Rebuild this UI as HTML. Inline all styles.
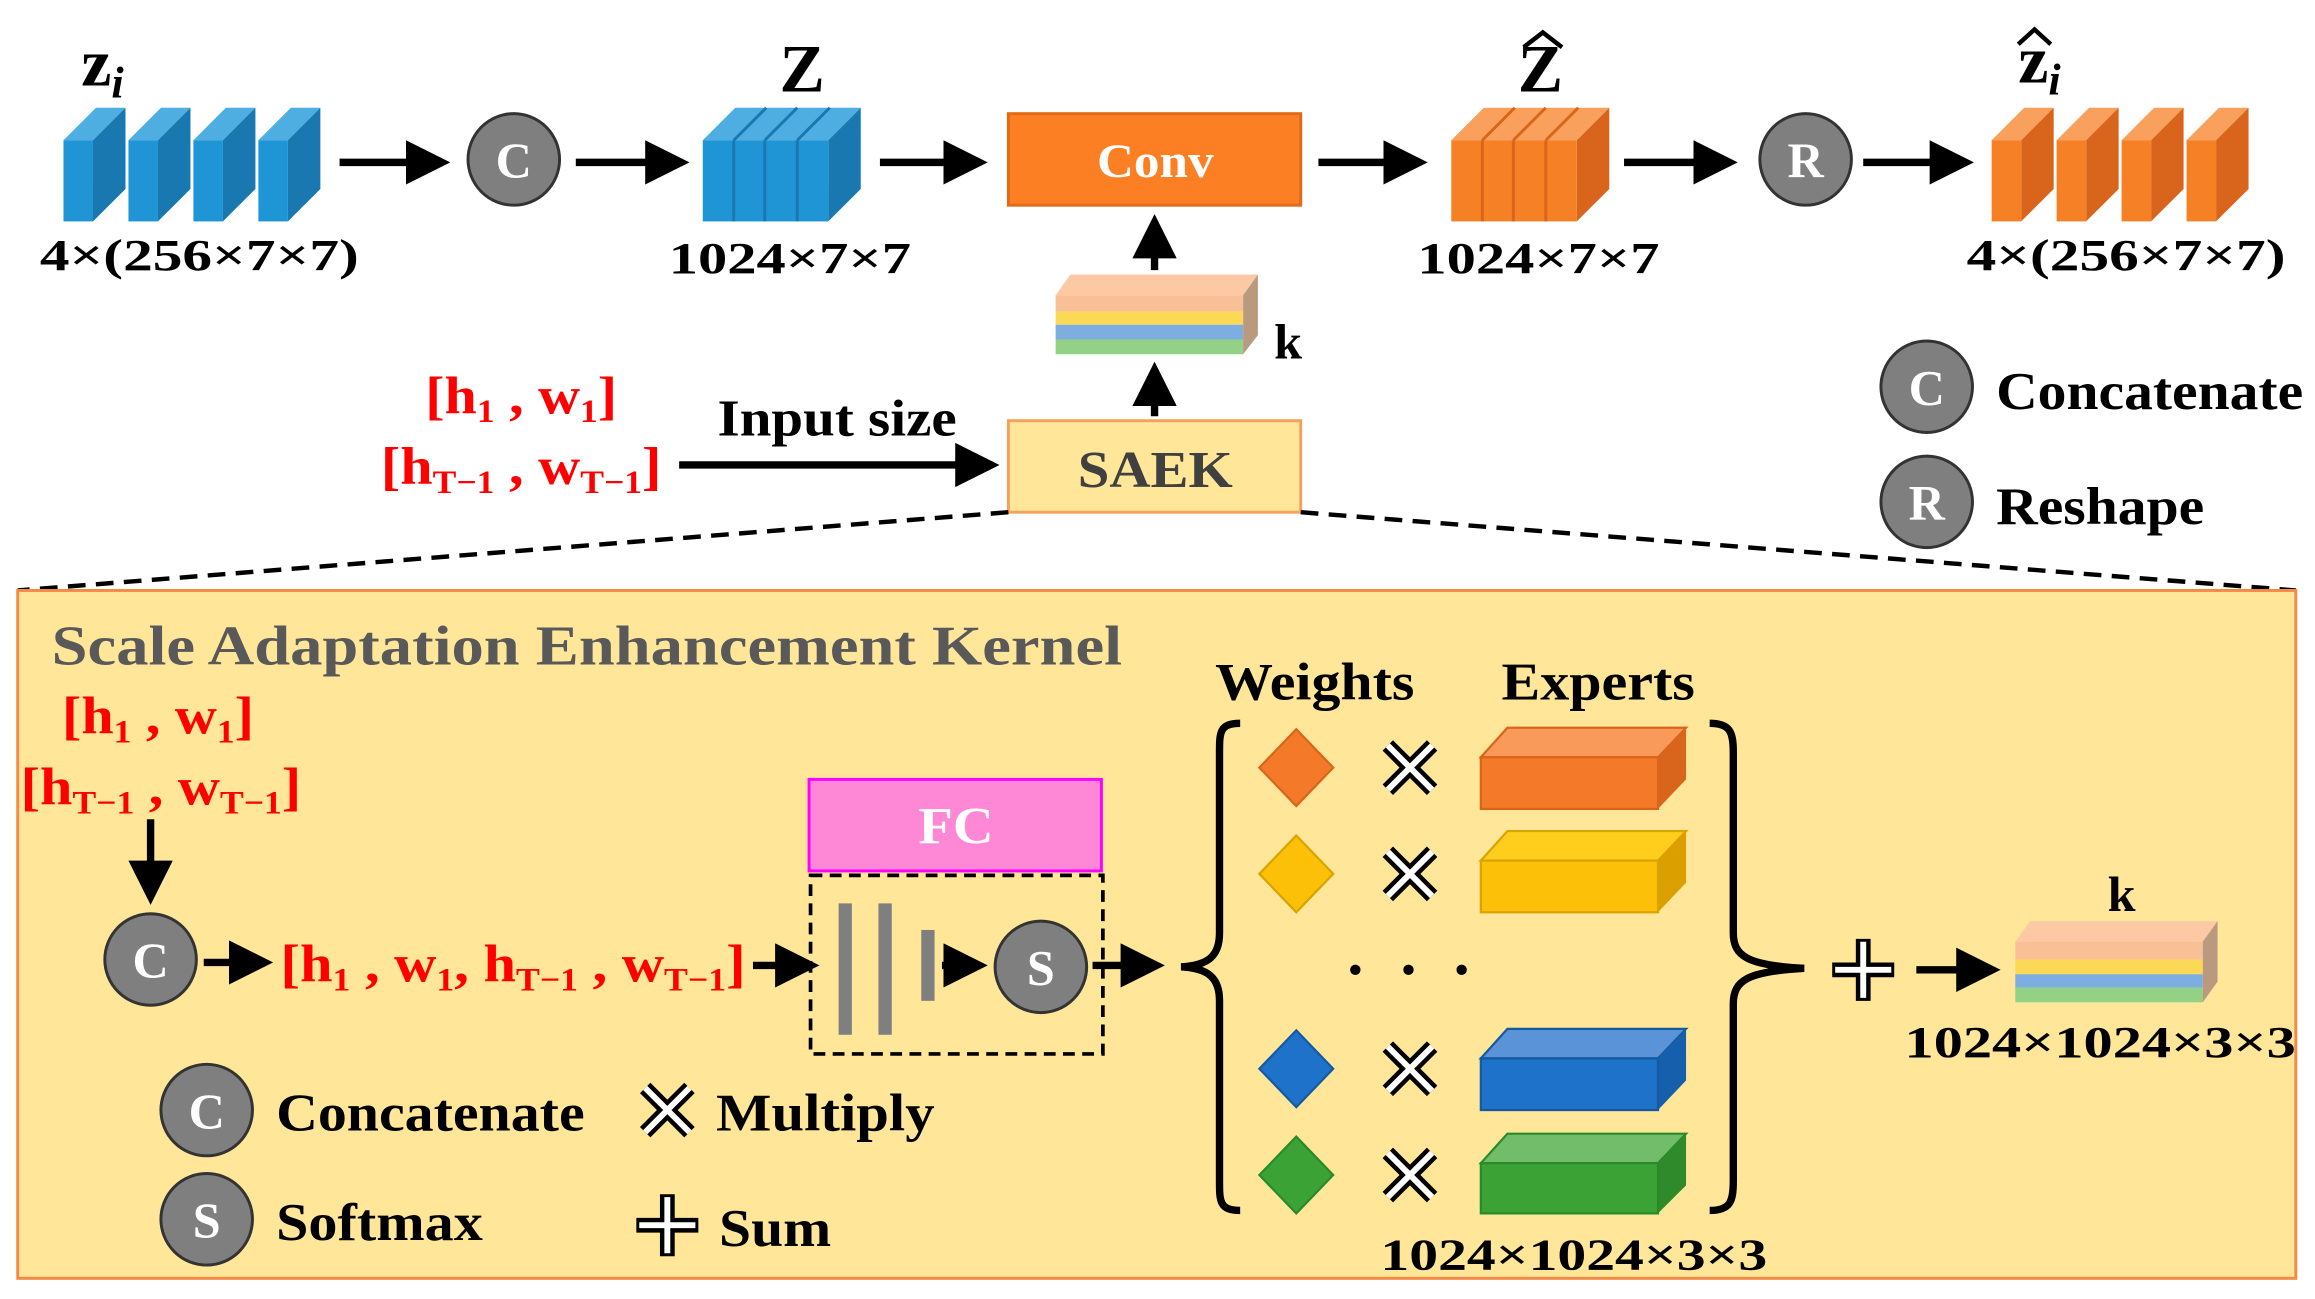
<!DOCTYPE html>
<html><head><meta charset="utf-8"><style>
html,body{margin:0;padding:0;background:#fff;width:2315px;height:1299px;overflow:hidden}
svg{display:block}
text{font-family:"Liberation Serif",serif;font-weight:bold}
</style></head><body>
<svg width="2315" height="1299" viewBox="0 0 1568 880" preserveAspectRatio="none" xmlns="http://www.w3.org/2000/svg">
<defs>
<marker id="ah" markerWidth="6" markerHeight="6" refX="5" refY="3" orient="auto" markerUnits="strokeWidth"><path d="M0,0 L6,3 L0,6 z" fill="#000"/></marker>
<g id="slabB"><polygon points="0,95 22,73 42,73 20,95" fill="#4eaee2"/><polygon points="20,95 42,73 42,128 20,150" fill="#1a78b0"/><rect x="0" y="95" width="20" height="55" fill="#1f95d5"/></g>
<g id="slabO"><polygon points="0,95 22,73 42,73 20,95" fill="#f9a15c"/><polygon points="20,95 42,73 42,128 20,150" fill="#d9651c"/><rect x="0" y="95" width="20" height="55" fill="#f58025"/></g>
<g id="xm"><path d="M-15,-15 L15,15 M15,-15 L-15,15" stroke="#000" stroke-width="10"/><path d="M-15,-15 L15,15 M15,-15 L-15,15" stroke="#fff" stroke-width="4"/></g>
<g id="pl"><path d="M-21,0 L21,0 M0,-21 L0,21" stroke="#000" stroke-width="10"/><path d="M-19,0 L19,0 M0,-19 L0,19" stroke="#fff" stroke-width="4"/></g>
</defs>
<g stroke="#000" stroke-width="5" marker-end="url(#ah)" fill="none">
<line x1="230" y1="110" x2="300" y2="110"/><line x1="390" y1="110" x2="462" y2="110"/><line x1="596" y1="110" x2="664" y2="110"/>
<line x1="893" y1="110" x2="962" y2="110"/><line x1="1100" y1="110" x2="1172" y2="110"/><line x1="1262" y1="110" x2="1332" y2="110"/>
<line x1="782" y1="183" x2="782" y2="150"/><line x1="782" y1="282" x2="782" y2="250"/>
<line x1="460" y1="315" x2="672" y2="315"/>
</g>
<use href="#slabB" x="43"/><use href="#slabB" x="87"/><use href="#slabB" x="131"/><use href="#slabB" x="175"/>
<polygon points="476,95 498,73 583,73 561,95" fill="#4eaee2"/><polygon points="561,95 583,73 583,128 561,150" fill="#1a78b0"/><rect x="476" y="95" width="85" height="55" fill="#1f95d5"/>
<g stroke="#1a78b0" stroke-width="2"><line x1="497" y1="95" x2="497" y2="150"/><line x1="518" y1="95" x2="518" y2="150"/><line x1="540" y1="95" x2="540" y2="150"/><line x1="497" y1="95" x2="519" y2="73"/><line x1="518" y1="95" x2="540" y2="73"/><line x1="540" y1="95" x2="562" y2="73"/></g>
<polygon points="983,95 1005,73 1090,73 1068,95" fill="#f9a15c"/><polygon points="1068,95 1090,73 1090,128 1068,150" fill="#d9651c"/><rect x="983" y="95" width="85" height="55" fill="#f58025"/>
<g stroke="#d9651c" stroke-width="2"><line x1="1004" y1="95" x2="1004" y2="150"/><line x1="1025" y1="95" x2="1025" y2="150"/><line x1="1047" y1="95" x2="1047" y2="150"/><line x1="1004" y1="95" x2="1026" y2="73"/><line x1="1025" y1="95" x2="1047" y2="73"/><line x1="1047" y1="95" x2="1069" y2="73"/></g>
<use href="#slabO" x="1349"/><use href="#slabO" x="1393"/><use href="#slabO" x="1437"/><use href="#slabO" x="1481"/>
<g fill="#000">
<text x="55" y="58" font-size="46">z<tspan font-size="30" font-style="italic" dy="8">i</tspan></text>
<text x="528" y="62" font-size="46">Z</text>
<text x="1028" y="62" font-size="46">Z</text>
<text x="1367" y="56" font-size="46">z<tspan font-size="30" font-style="italic" dy="8">i</tspan></text>
<text x="27" y="183" font-size="30" textLength="216" lengthAdjust="spacingAndGlyphs">4×(256×7×7)</text>
<text x="453" y="185" font-size="30" textLength="164" lengthAdjust="spacingAndGlyphs">1024×7×7</text>
<text x="960" y="185" font-size="30" textLength="164" lengthAdjust="spacingAndGlyphs">1024×7×7</text>
<text x="1332" y="183" font-size="30" textLength="216" lengthAdjust="spacingAndGlyphs">4×(256×7×7)</text>
</g>
<g fill="none" stroke="#000" stroke-width="3"><path d="M1032,32 L1045,22 L1058,32"/><path d="M1367,30 L1378,20 L1389,30"/></g>
<g stroke="#333" stroke-width="2"><circle cx="348" cy="108" r="31" fill="#7f7f7f"/><circle cx="1223" cy="108" r="31" fill="#7f7f7f"/><circle cx="1305" cy="262" r="31" fill="#7f7f7f"/><circle cx="1305" cy="340" r="31" fill="#7f7f7f"/></g>
<g fill="#fff" font-size="34" text-anchor="middle"><text x="348" y="120">C</text><text x="1223" y="120">R</text><text x="1305" y="274">C</text><text x="1305" y="352">R</text></g>
<text x="1352" y="277" font-size="36" textLength="208" lengthAdjust="spacingAndGlyphs">Concatenate</text><text x="1352" y="355" font-size="36" textLength="141" lengthAdjust="spacingAndGlyphs">Reshape</text>
<rect x="683" y="77" width="198" height="62" fill="#fd7f23" stroke="#e06a15" stroke-width="2"/>
<text x="743" y="120" font-size="32" fill="#fff" textLength="79" lengthAdjust="spacingAndGlyphs">Conv</text>
<g><polygon points="715,200 725,186 852,186 842,200" fill="#fcc9a4"/><rect x="715" y="200" width="127" height="11" fill="#f9bf96"/><rect x="715" y="211" width="127" height="9" fill="#fbd957"/><rect x="715" y="220" width="127" height="10" fill="#7eaee1"/><rect x="715" y="230" width="127" height="10" fill="#92d186"/><polygon points="842,200 852,186 852,227 842,240" fill="#b99a7e"/></g>
<text x="863" y="243" font-size="34">k</text>
<rect x="683" y="285" width="198" height="62" fill="#ffe699" stroke="#f5a15c" stroke-width="2"/>
<text x="730" y="330" font-size="35" fill="#404040" textLength="105" lengthAdjust="spacingAndGlyphs">SAEK</text>
<g fill="#ff0000" font-size="36">
<text x="288" y="280" textLength="130" lengthAdjust="spacingAndGlyphs">[h<tspan font-size="22" dy="6">1</tspan><tspan dy="-6"> , w</tspan><tspan font-size="22" dy="6">1</tspan><tspan dy="-6">]</tspan></text>
<text x="258" y="328" textLength="190" lengthAdjust="spacingAndGlyphs">[h<tspan font-size="22" dy="6">T−1</tspan><tspan dy="-6"> , w</tspan><tspan font-size="22" dy="6">T−1</tspan><tspan dy="-6">]</tspan></text>
</g>
<text x="486" y="295" font-size="35" textLength="162" lengthAdjust="spacingAndGlyphs">Input size</text>
<g stroke="#000" stroke-width="3" stroke-dasharray="12,7"><line x1="683" y1="347" x2="12" y2="400"/><line x1="881" y1="347" x2="1555" y2="400"/></g>
<rect x="12" y="400" width="1543" height="466" fill="#ffe699" stroke="#f48a44" stroke-width="2"/>
<g stroke="#000" stroke-width="5" marker-end="url(#ah)" fill="none">
<line x1="102" y1="555" x2="102" y2="608"/><line x1="138" y1="652" x2="180" y2="652"/><line x1="510" y1="654" x2="550" y2="654"/>
<line x1="638" y1="654" x2="664" y2="654"/><line x1="740" y1="654" x2="784" y2="654"/><line x1="1298" y1="657" x2="1350" y2="657"/>
</g>
<text x="35" y="450" font-size="38" fill="#595959" textLength="725" lengthAdjust="spacingAndGlyphs">Scale Adaptation Enhancement Kernel</text>
<g fill="#ff0000" font-size="36">
<text x="42" y="497" textLength="130" lengthAdjust="spacingAndGlyphs">[h<tspan font-size="22" dy="6">1</tspan><tspan dy="-6"> , w</tspan><tspan font-size="22" dy="6">1</tspan><tspan dy="-6">]</tspan></text>
<text x="14" y="545" textLength="190" lengthAdjust="spacingAndGlyphs">[h<tspan font-size="22" dy="6">T−1</tspan><tspan dy="-6"> , w</tspan><tspan font-size="22" dy="6">T−1</tspan><tspan dy="-6">]</tspan></text>
<text x="190" y="665" textLength="315" lengthAdjust="spacingAndGlyphs">[h<tspan font-size="22" dy="6">1</tspan><tspan dy="-6"> , w</tspan><tspan font-size="22" dy="6">1</tspan><tspan dy="-6">, h</tspan><tspan font-size="22" dy="6">T−1</tspan><tspan dy="-6"> , w</tspan><tspan font-size="22" dy="6">T−1</tspan><tspan dy="-6">]</tspan></text>
</g>
<g stroke="#333" stroke-width="2" fill="#7f7f7f"><circle cx="102" cy="650" r="31"/><circle cx="705" cy="655" r="31"/><circle cx="140" cy="752" r="31"/><circle cx="140" cy="826" r="31"/></g>
<g fill="#fff" font-size="34" text-anchor="middle"><text x="102" y="662">C</text><text x="705" y="667">S</text><text x="140" y="764">C</text><text x="140" y="838">S</text></g>
<rect x="548" y="528" width="198" height="62" fill="#ff88d6" stroke="#ff00ff" stroke-width="2"/>
<text x="622" y="571" font-size="35" fill="#fff" textLength="51" lengthAdjust="spacingAndGlyphs">FC</text>
<rect x="549" y="593" width="198" height="121" fill="none" stroke="#000" stroke-width="2.5" stroke-dasharray="8,5"/>
<g fill="#7f7f7f"><rect x="568" y="612" width="9" height="89"/><rect x="595" y="612" width="9" height="89"/><rect x="624" y="630" width="9" height="48"/></g>
<g fill="none" stroke="#000" stroke-width="5">
<path d="M840,490 C826,490 826,496 826,510 L826,632 C826,648 818,654 800,655 C818,656 826,662 826,678 L826,800 C826,814 826,820 840,820"/>
<path d="M1158,490 C1172,490 1174,496 1174,510 L1174,632 C1174,648 1184,654 1222,656 C1184,658 1174,664 1174,680 L1174,800 C1174,814 1172,820 1158,820"/>
</g>
<text x="823" y="474" font-size="36" textLength="135" lengthAdjust="spacingAndGlyphs">Weights</text><text x="1017" y="474" font-size="36" textLength="131" lengthAdjust="spacingAndGlyphs">Experts</text>
<g stroke-width="1.5">
<polygon points="878,494 903,520 878,546 853,520" fill="#f47a2a" stroke="#d9651c"/>
<polygon points="878,566 903,592 878,618 853,592" fill="#fdc009" stroke="#d9a300"/>
<polygon points="878,698 903,724 878,750 853,724" fill="#1e72c9" stroke="#155aa0"/>
<polygon points="878,770 903,796 878,822 853,796" fill="#3ba335" stroke="#2a8a28"/>
</g>
<use href="#xm" x="955" y="520"/><use href="#xm" x="955" y="592"/><use href="#xm" x="955" y="724"/><use href="#xm" x="955" y="796"/>
<g fill="#000"><circle cx="918" cy="657" r="3.5"/><circle cx="954" cy="657" r="3.5"/><circle cx="990" cy="657" r="3.5"/></g>
<g stroke-width="1.5">
<g><polygon points="1003,513 1021,493 1142,493 1123,513" fill="#f99a5a" stroke="#d9651c"/><polygon points="1123,513 1142,493 1142,528 1123,548" fill="#d9651c"/><rect x="1003" y="513" width="120" height="35" fill="#f47a2a" stroke="#d9651c"/></g>
<g><polygon points="1003,583 1021,563 1142,563 1123,583" fill="#ffcd1c" stroke="#d9a300"/><polygon points="1123,583 1142,563 1142,598 1123,618" fill="#dba000"/><rect x="1003" y="583" width="120" height="35" fill="#fdc009" stroke="#d9a300"/></g>
<g><polygon points="1003,717 1021,697 1142,697 1123,717" fill="#5b93d8" stroke="#155aa0"/><polygon points="1123,717 1142,697 1142,732 1123,752" fill="#165fac"/><rect x="1003" y="717" width="120" height="35" fill="#1e72c9" stroke="#155aa0"/></g>
<g><polygon points="1003,788 1021,768 1142,768 1123,788" fill="#72bd69" stroke="#2a8a28"/><polygon points="1123,788 1142,768 1142,803 1123,822" fill="#2e8a2a"/><rect x="1003" y="788" width="120" height="34" fill="#3ba335" stroke="#2a8a28"/></g>
</g>
<use href="#pl" x="1262" y="657"/>
<g><polygon points="1365,638 1375,624 1502,624 1492,638" fill="#fcc9a4"/><rect x="1365" y="638" width="127" height="12" fill="#f9bf96"/><rect x="1365" y="650" width="127" height="10" fill="#fbd957"/><rect x="1365" y="660" width="127" height="9" fill="#7eaee1"/><rect x="1365" y="669" width="127" height="10" fill="#92d186"/><polygon points="1492,638 1502,624 1502,665 1492,679" fill="#b99a7e"/></g>
<text x="1437" y="617" font-size="34" text-anchor="middle">k</text>
<text x="1290" y="716" font-size="30" textLength="265" lengthAdjust="spacingAndGlyphs">1024×1024×3×3</text>
<text x="935" y="860" font-size="30" textLength="262" lengthAdjust="spacingAndGlyphs">1024×1024×3×3</text>
<text x="187" y="766" font-size="36" textLength="209" lengthAdjust="spacingAndGlyphs">Concatenate</text><text x="187" y="840" font-size="36" textLength="140" lengthAdjust="spacingAndGlyphs">Softmax</text>
<use href="#xm" x="452" y="752"/><text x="485" y="766" font-size="36" textLength="148" lengthAdjust="spacingAndGlyphs">Multiply</text>
<use href="#pl" x="452" y="830"/><text x="487" y="844" font-size="36" textLength="76" lengthAdjust="spacingAndGlyphs">Sum</text>
</svg>
</body></html>
